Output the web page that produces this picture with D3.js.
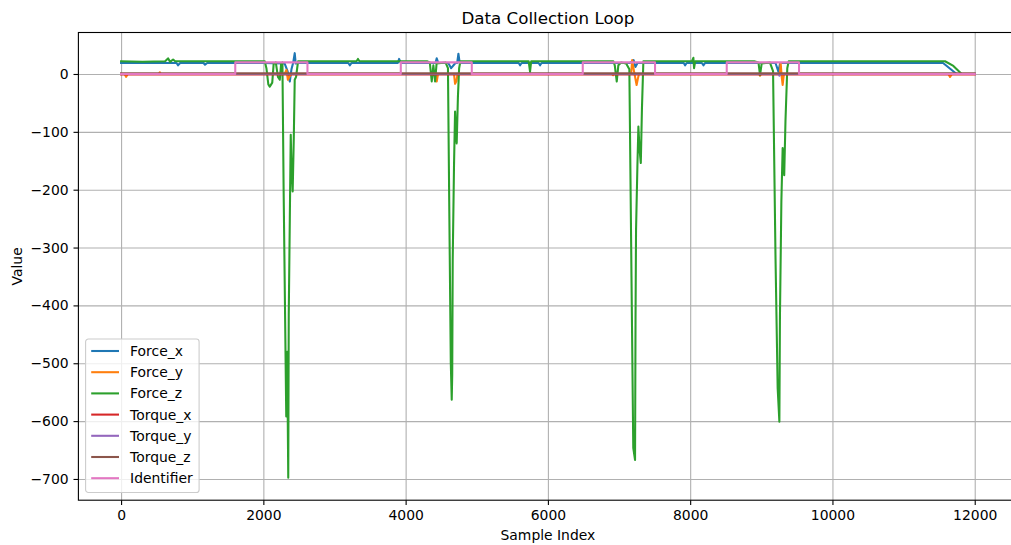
<!DOCTYPE html>
<html>
<head>
<meta charset="utf-8">
<script src="https://cdn.jsdelivr.net/npm/d3@7"></script>
<style>
  body { margin: 0; background: #fff; }
  text { font-family: "DejaVu Sans", sans-serif; fill: #000; }
</style>
</head>
<body>
<div id="chart"></div>
<script>
// series: [sample index, value]
const forceX = [[0,19],[400,19],[780,19],[800,15],[830,19],[1160,19],[1180,16],[1210,19],[1600,19],[2000,19],[2300,18],[2340,5],[2372,-13],[2395,8],[2420,20],[2441,36],[2455,18],[2500,19],[3195,19],[3215,15],[3240,19],[3890,19],[3908,26],[3930,19],[4300,19],[4420,19],[4437,27],[4460,19],[4600,19],[4640,10],[4700,19],[4725,19],[4742,35],[4760,19],[5590,19],[5609,15],[5630,19],[5870,19],[5890,15],[5910,19],[6500,19],[7150,19],[7205,24],[7230,12],[7260,19],[7910,19],[7928,15],[7950,19],[8165,19],[8186,15],[8210,19],[9200,19],[9240,4],[9265,19],[9600,19],[11555,19],[11746,0],[12000,0]];
const forceY = [[0,0],[50,0],[70,-5],[95,0],[530,0],[544,3],[560,0],[2300,0],[2325,7],[2345,-10],[2370,-4],[2395,0],[4420,0],[4437,-13],[4455,0],[4680,0],[4695,-17],[4715,-12],[4730,0],[6900,0],[6917,-2],[6935,0],[7170,0],[7185,24],[7210,5],[7247,-19],[7265,-8],[7280,0],[8965,0],[8982,-3],[9000,0],[9260,0],[9272,19],[9287,-5],[9300,-19],[9318,0],[11630,0],[11653,-5],[11680,0],[12000,0]];
const forceZ = [[0,22],[300,21],[620,22],[660,27],[690,21],[731,25],[760,22],[1200,22],[1600,22],[2020,22],[2043,10],[2070,-18],[2090,-22],[2125,-15],[2145,18],[2175,20],[2205,-5],[2231,-10],[2250,18],[2268,20],[2285,-200],[2322,-592],[2335,-480],[2350,-698],[2357,-416],[2372,-250],[2385,-105],[2393,-150],[2412,-203],[2428,-110],[2441,-10],[2460,-5],[2488,22],[2800,22],[3310,22],[3330,26],[3350,22],[4300,22],[4340,20],[4367,-13],[4390,15],[4414,-13],[4435,18],[4560,20],[4595,10],[4615,-250],[4635,-500],[4648,-563],[4655,-520],[4662,-321],[4680,-160],[4695,-65],[4705,-95],[4718,-120],[4735,-40],[4752,10],[4770,22],[5200,22],[5730,22],[5749,4],[5765,22],[6800,22],[6920,22],[6940,15],[6968,-13],[6990,15],[7030,20],[7100,18],[7145,8],[7175,-350],[7200,-646],[7225,-667],[7232,-420],[7239,-270],[7258,-160],[7272,-91],[7288,-130],[7306,-154],[7322,-60],[7342,22],[8025,22],[8045,28],[8055,10],[8070,22],[8900,22],[8960,20],[8982,-2],[9005,18],[9120,20],[9165,5],[9200,-320],[9230,-543],[9254,-601],[9262,-420],[9282,-220],[9300,-128],[9310,-150],[9322,-175],[9340,-80],[9365,10],[9385,22],[10500,22],[11583,22],[11700,14],[11817,0],[12000,0]];
const torqueX = [[0,-1],[12000,-1]];
const torqueY = [[0,0],[9240,0],[9255,-3],[9270,0],[12000,0]];
const torqueZ = [[0,1],[12000,1]];
const identifier = [[0,0],[1605,0],[1605,20],[2620,20],[2620,0],[3932,0],[3932,20],[4930,20],[4930,0],[6490,0],[6490,20],[7506,20],[7506,0],[8514,0],[8514,20],[9530,20],[9530,0],[12000,0]];

const seriesNames = ["Force_x", "Force_y", "Force_z", "Torque_x", "Torque_y", "Torque_z", "Identifier"];
const seriesData = [forceX, forceY, forceZ, torqueX, torqueY, torqueZ, identifier];
const colors = ["#1f77b4", "#ff7f0e", "#2ca02c", "#d62728", "#9467bd", "#8c564b", "#e377c2"];
const xTicks = [0, 2000, 4000, 6000, 8000, 10000, 12000];
const yTicks = [0, -100, -200, -300, -400, -500, -600, -700];

let width = 1011,
    height = 545,
    margin = ({ top: 32.5, right: -6.4, bottom: 44.8, left: 78.4 }); // right spine falls just outside the picture

const svg = d3.select("#chart")
    .append("svg")
    .attr("width", width)
    .attr("height", height);

let x = d3.scaleLinear()
    .domain([-600, 12600])
    .range([margin.left, width - margin.right]);

let y = d3.scaleLinear()
    .domain([71.7, -736.7])
    .range([margin.top, height - margin.bottom]);

const plotW = width - margin.right - margin.left,
      plotH = height - margin.bottom - margin.top;

svg.append("defs").append("clipPath").attr("id", "clip")
  .append("rect")
    .attr("x", margin.left).attr("y", margin.top)
    .attr("width", plotW).attr("height", plotH);

// grid
svg.append("g")
    .attr("transform", `translate(0,${height - margin.bottom})`)
    .call(d3.axisBottom(x).tickValues(xTicks).tickSize(-plotH).tickFormat(""))
    .call(g => g.select(".domain").remove())
    .call(g => g.selectAll("line").attr("stroke", "#b0b0b0").attr("stroke-width", 1.1));

svg.append("g")
    .attr("transform", `translate(${margin.left},0)`)
    .call(d3.axisLeft(y).tickValues(yTicks).tickSize(-plotW).tickFormat(""))
    .call(g => g.select(".domain").remove())
    .call(g => g.selectAll("line").attr("stroke", "#b0b0b0").attr("stroke-width", 1.1));

// lines
const line = d3.line().x(d => x(d[0])).y(d => y(d[1]));

svg.append("g")
    .attr("clip-path", "url(#clip)")
  .selectAll("path")
  .data(seriesData)
  .join("path")
    .attr("d", line)
    .attr("fill", "none")
    .attr("stroke", (d, i) => colors[i])
    .attr("stroke-width", 2.08)
    .attr("stroke-linejoin", "round")
    .attr("stroke-linecap", "square");

// axes with ticks
svg.append("g")
    .attr("transform", `translate(0,${height - margin.bottom})`)
    .call(d3.axisBottom(x).tickValues(xTicks).tickSize(4.9).tickPadding(4.9).tickSizeOuter(0).tickFormat(d3.format("d")))
    .call(g => g.select(".domain").remove())
    .call(g => g.selectAll("line").attr("stroke", "#000").attr("stroke-width", 1.1))
    .call(g => g.selectAll("text").attr("font-size", 13.9).attr("font-family", "DejaVu Sans"));

svg.append("g")
    .attr("transform", `translate(${margin.left},0)`)
    .call(d3.axisLeft(y).tickValues(yTicks).tickSize(4.9).tickPadding(4.9).tickSizeOuter(0).tickFormat(d => d < 0 ? "\u2212" + Math.abs(d) : d))
    .call(g => g.select(".domain").remove())
    .call(g => g.selectAll("line").attr("stroke", "#000").attr("stroke-width", 1.1))
    .call(g => g.selectAll("text").attr("font-size", 13.9).attr("font-family", "DejaVu Sans"));

// spines
svg.append("rect")
    .attr("x", margin.left).attr("y", margin.top)
    .attr("width", plotW).attr("height", plotH)
    .attr("fill", "none").attr("stroke", "#000").attr("stroke-width", 1.1);

// title and labels
svg.append("text")
    .attr("x", margin.left + plotW / 2).attr("y", 24.3)
    .attr("text-anchor", "middle").attr("font-size", 16.7)
    .text("Data Collection Loop");

svg.append("text")
    .attr("x", margin.left + plotW / 2).attr("y", 540)
    .attr("text-anchor", "middle").attr("font-size", 13.9)
    .text("Sample Index");

svg.append("text")
    .attr("transform", `translate(21.5,${margin.top + plotH / 2}) rotate(-90)`)
    .attr("text-anchor", "middle").attr("font-size", 13.9)
    .text("Value");

// legend
const legend = svg.append("g").attr("transform", "translate(85.6,339)");
legend.append("rect")
    .attr("width", 113.5).attr("height", 153.5)
    .attr("rx", 2.8)
    .attr("fill", "#fff").attr("fill-opacity", 0.8)
    .attr("stroke", "#cccccc").attr("stroke-width", 1.1);

const rows = legend.selectAll("g.item")
  .data(seriesNames)
  .join("g")
    .attr("class", "item")
    .attr("transform", (d, i) => `translate(0,${12 + i * 21.2})`);

rows.append("line")
    .attr("x1", 5.6).attr("x2", 33.4)
    .attr("stroke", (d, i) => colors[i]).attr("stroke-width", 2.08);

rows.append("text")
    .attr("x", 44.5).attr("dy", "0.36em")
    .attr("font-size", 13.9)
    .text(d => d);
</script>
</body>
</html>
